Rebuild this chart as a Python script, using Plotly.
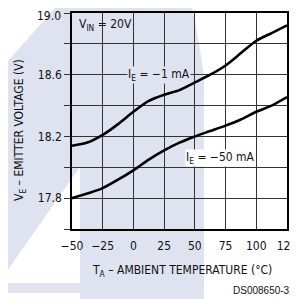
import plotly.graph_objects as go

# Data
temp_c = [-50, -37.5, -25, -12.5, 0, 12.5, 25, 37.5, 50, 62.5, 75, 87.5, 100, 112.5, 125]
ve_1ma = [18.14, 18.16, 18.21, 18.28, 18.36, 18.43, 18.47, 18.50, 18.55, 18.60, 18.66, 18.74, 18.82, 18.87, 18.92]
ve_50ma = [17.80, 17.83, 17.865, 17.92, 17.98, 18.05, 18.11, 18.16, 18.20, 18.235, 18.27, 18.31, 18.36, 18.40, 18.455]

x_ticks = [-50, -25, 0, 25, 50, 75, 100, 125]
y_grid = [17.6, 17.8, 18.0, 18.2, 18.4, 18.6, 18.8, 19.0]
y_labels = ["", "17.8", "", "18.2", "", "18.6", "", ""]
y_top_label = "19.0"
y_top_value = 19.0

FONT = "'Liberation Sans Narrow', 'DejaVu Sans Condensed', 'Liberation Sans', Arial, sans-serif"
LAV = "#dfe3ef"

# page body has an 8px margin; figure sized so the plot lands at the reference pixels
OFF = 8
W, H = 298 - OFF, 299 - OFF
PL, PT, PW, PH = 72, 13, 215, 216          # plot area in window pixels
L, T = PL - OFF, PT - OFF
R, B = W - L - PW, H - T - PH


def px(x):
    return (x - PL) / PW


def py(y):
    return (PT + PH - y) / PH


def poly(points):
    return "M " + " L ".join(f"{px(a):.4f},{py(b):.4f}" for a, b in points) + " Z"


fig = go.Figure()
fig.add_trace(go.Scatter(x=temp_c, y=ve_1ma, mode="lines",
                         line=dict(color="black", width=2.6, shape="spline", smoothing=0.8),
                         showlegend=False))
fig.add_trace(go.Scatter(x=temp_c, y=ve_50ma, mode="lines",
                         line=dict(color="black", width=2.6, shape="spline", smoothing=0.8),
                         showlegend=False))

shapes = [
    dict(type="path", xref="paper", yref="paper", layer="below", line=dict(width=0), fillcolor=LAV,
         path=poly([(62, 0), (190, 0), (195, 20), (200, 50), (204, 75), (204, 299), (0, 299), (0, 70)])),
    dict(type="path", xref="paper", yref="paper", layer="below", line=dict(width=0), fillcolor="white",
         path=poly([(0, 281), (80, 167), (80, 283), (0, 283)])),
    dict(type="path", xref="paper", yref="paper", layer="below", line=dict(width=0), fillcolor="white",
         path=poly([(0, 293), (80, 293), (80, 299), (0, 299)])),
]

annotations = [
    dict(x=px(63), y=y_top_value, xref="paper", yref="y", text=y_top_label, showarrow=False,
         xanchor="right", yanchor="top", yshift=6, font=dict(size=12, color="#111", family=FONT)),
    dict(x=-46, y=18.92, xref="x", yref="y", text="V<sub>IN</sub> = 20V", showarrow=False,
         xanchor="left", yanchor="middle", font=dict(size=12, color="#111", family=FONT)),
    dict(x=21, y=18.598, xref="x", yref="y", text="I<sub>E</sub> = −1 mA", showarrow=False,
         xanchor="center", yanchor="middle", bgcolor=LAV, borderpad=0,
         font=dict(size=12, color="#111", family=FONT)),
    dict(x=71, y=18.06, xref="x", yref="y", text="I<sub>E</sub> = −50 mA", showarrow=False,
         xanchor="center", yanchor="middle", bgcolor="white", borderpad=0,
         font=dict(size=12, color="#111", family=FONT)),
    dict(x=px(182), y=py(271), xref="paper", yref="paper",
         text="T<sub>A</sub> – AMBIENT TEMPERATURE (°C)", showarrow=False,
         xanchor="center", yanchor="middle", font=dict(size=12, color="#111", family=FONT)),
    dict(x=px(20), y=py(130), xref="paper", yref="paper", textangle=-90,
         text="V<sub>E</sub> – EMITTER VOLTAGE (V)", showarrow=False,
         xanchor="center", yanchor="middle", font=dict(size=12, color="#111", family=FONT)),
    dict(x=px(297), y=py(290), xref="paper", yref="paper", text="DS008650-32", showarrow=False,
         xanchor="right", yanchor="middle",
         font=dict(size=10, color="#111", family="'Liberation Sans', Arial, sans-serif")),
]

fig.update_layout(
    width=W, height=H,
    margin=dict(l=L, r=R, t=T, b=B, pad=0),
    paper_bgcolor="white", plot_bgcolor="rgba(0,0,0,0)",
    font=dict(family=FONT, size=12, color="#111"),
    shapes=shapes, annotations=annotations,
    xaxis=dict(range=[-50, 125], tickvals=x_ticks, showgrid=True, gridcolor="#333", gridwidth=1,
               showline=True, linecolor="black", linewidth=1.5, mirror=True,
               ticks="outside", ticklen=5, tickcolor="rgba(0,0,0,0)", zeroline=False,
               automargin=False, ticklabeloverflow="allow", tickfont=dict(size=12, family=FONT)),
    yaxis=dict(range=[17.6, 19.0], tickvals=y_grid, ticktext=y_labels, showgrid=True, gridcolor="#333",
               gridwidth=1, showline=True, linecolor="black", linewidth=1.5, mirror=True,
               ticks="outside", ticklen=6, tickcolor="#333", zeroline=False,
               automargin=False, ticklabeloverflow="allow", tickfont=dict(size=12, family=FONT)),
)

fig.write_html("out.html")
